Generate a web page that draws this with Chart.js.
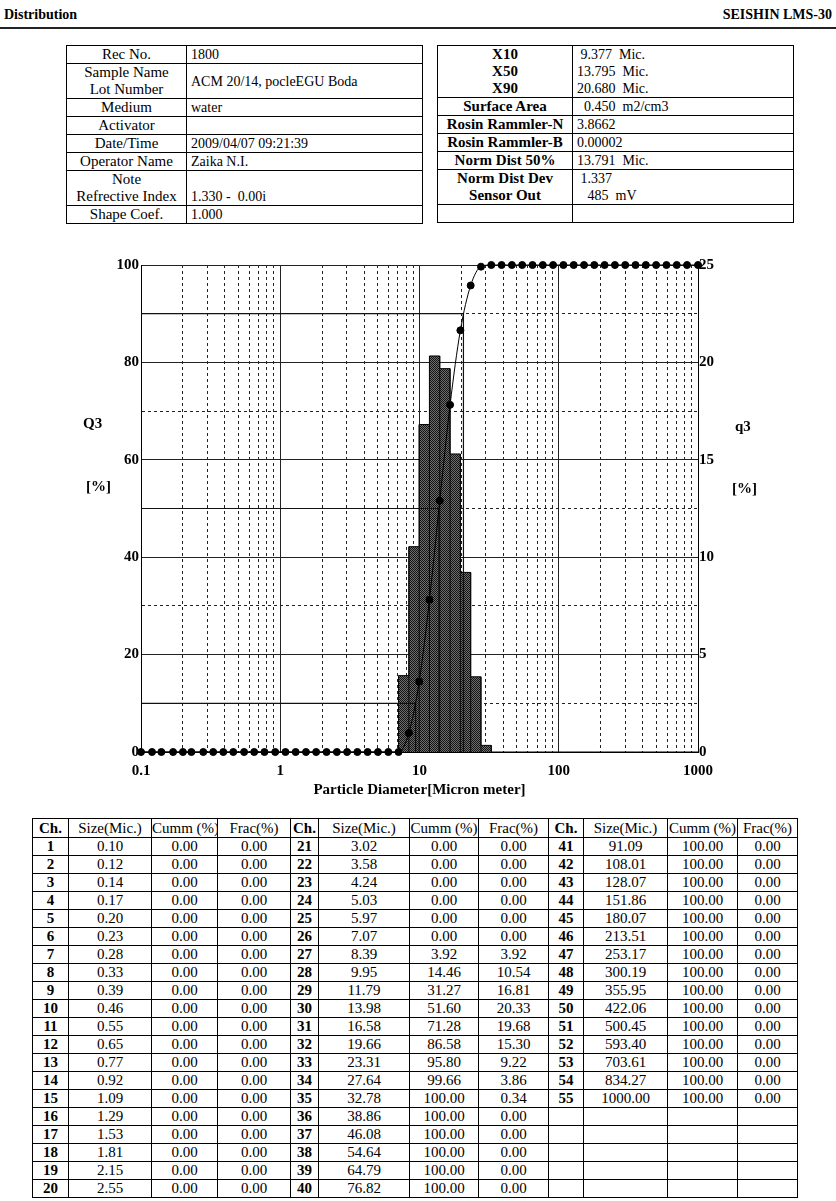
<!DOCTYPE html>
<html>
<head>
<meta charset="utf-8">
<script src="https://cdn.jsdelivr.net/npm/chart.js@4.4.0/dist/chart.umd.min.js"></script>
<style>
  body { margin: 0; background: #fff; color: #000; font-family: "Liberation Serif", "Times New Roman", serif; }
  #page { position: relative; width: 836px; height: 1201px; overflow: hidden; }
  .abs { position: absolute; }
  .hdr { font-size: 14px; font-weight: bold; top: 7px; }
  table { border-collapse: collapse; table-layout: fixed; }
  td { border: 1px solid #000; padding: 0; font-size: 14px; line-height: 17px; white-space: pre; overflow: hidden; }
  #info td.l, #stats td.l { text-align: center; font-size: 15px; }
  #info td.v, #stats td.v { padding-left: 4px; }
  #stats td.l { font-weight: bold; }
  #grid td { text-align: center; font-size: 15px; }
  #grid tr.h td { line-height: 18px; }
  #grid td.ch { font-weight: bold; }
  .axlbl { font-size: 15px; font-weight: bold; }
</style>
</head>
<body>
<div id="page">
  <div class="abs hdr" style="left:4px;">Distribution</div>
  <div class="abs hdr" style="right:4px;">SEISHIN LMS-30</div>
  <div class="abs" style="left:0;top:27px;width:836px;height:2px;background:#222;"></div>

  <table id="info" class="abs" style="left:66px;top:45px;width:357px;"></table>
  <table id="stats" class="abs" style="left:437px;top:45px;width:357px;"></table>

  <canvas id="psd" class="abs" width="760" height="560" style="left:40px;top:250px;"></canvas>
  <div class="abs axlbl" style="left:83px;top:415px;">Q3</div>
  <div class="abs axlbl" style="left:86px;top:478px;">[%]</div>
  <div class="abs axlbl" style="left:735px;top:418px;">q3</div>
  <div class="abs axlbl" style="left:732px;top:480px;">[%]</div>

  <table id="grid" class="abs" style="left:32px;top:818px;width:765px;"></table>
</div>
<script>
// measurement info
var infoLabels = ['Rec No.', 'Sample Name\nLot Number', 'Medium', 'Activator', 'Date/Time', 'Operator Name', 'Note\nRefrective Index', 'Shape Coef.'];
var infoValues = ['1800', 'ACM 20/14, pocleEGU Boda', 'water', '', '2009/04/07 09:21:39', 'Zaika N.I.', '\n1.330 -  0.00i', '1.000'];

var statLabels = ['X10\nX50\nX90', 'Surface Area', 'Rosin Rammler-N', 'Rosin Rammler-B', 'Norm Dist 50%', 'Norm Dist Dev\nSensor Out', '\u00a0'];
var statValues = [' 9.377  Mic.\n13.795  Mic.\n20.680  Mic.', '  0.450  m2/cm3', '3.8662', '0.00002', '13.791  Mic.', ' 1.337\n   485  mV', '\u00a0'];
var xStatSizes = [9.377, 13.795, 20.680];
var xStatLevels = [10, 50, 90];

// channel data
var sizes = [0.10, 0.12, 0.14, 0.17, 0.20, 0.23, 0.28, 0.33, 0.39, 0.46,
             0.55, 0.65, 0.77, 0.92, 1.09, 1.29, 1.53, 1.81, 2.15, 2.55,
             3.02, 3.58, 4.24, 5.03, 5.97, 7.07, 8.39, 9.95, 11.79, 13.98,
             16.58, 19.66, 23.31, 27.64, 32.78, 38.86, 46.08, 54.64, 64.79, 76.82,
             91.09, 108.01, 128.07, 151.86, 180.07, 213.51, 253.17, 300.19, 355.95, 422.06,
             500.45, 593.40, 703.61, 834.27, 1000.00];
var cumm = [0, 0, 0, 0, 0, 0, 0, 0, 0, 0,
            0, 0, 0, 0, 0, 0, 0, 0, 0, 0,
            0, 0, 0, 0, 0, 0, 3.92, 14.46, 31.27, 51.60,
            71.28, 86.58, 95.80, 99.66, 100, 100, 100, 100, 100, 100,
            100, 100, 100, 100, 100, 100, 100, 100, 100, 100,
            100, 100, 100, 100, 100];
var frac = [0, 0, 0, 0, 0, 0, 0, 0, 0, 0,
            0, 0, 0, 0, 0, 0, 0, 0, 0, 0,
            0, 0, 0, 0, 0, 0, 3.92, 10.54, 16.81, 20.33,
            19.68, 15.30, 9.22, 3.86, 0.34, 0, 0, 0, 0, 0,
            0, 0, 0, 0, 0, 0, 0, 0, 0, 0,
            0, 0, 0, 0, 0];

var xMajor = [0.1, 1, 10, 100, 1000];
var gridCols = ['Ch.', 'Size(Mic.)', 'Cumm (%)', 'Frac(%)'];
var gridWidths = [36, 83, 66, 73, 28, 91, 69, 70, 35, 84, 70, 60];

// ---- tables ----
function cellRows(tableId, labels, values) {
  var t = document.getElementById(tableId);
  var html = '<colgroup><col style="width:' + (tableId === 'info' ? 120 : 135) + 'px"><col></colgroup>';
  for (var i = 0; i < labels.length; i++) {
    html += '<tr><td class="l">' + labels[i] + '</td><td class="v">' + values[i] + '</td></tr>';
  }
  t.innerHTML = html;
}
cellRows('info', infoLabels, infoValues);
cellRows('stats', statLabels, statValues);

(function () {
  var t = document.getElementById('grid');
  var html = '<colgroup>' + gridWidths.map(function (w) { return '<col style="width:' + w + 'px">'; }).join('') + '</colgroup>';
  html += '<tr class="h">';
  for (var k = 0; k < 3; k++) {
    html += gridCols.map(function (c, j) { return '<td' + (j === 0 ? ' class="ch"' : '') + '>' + c + '</td>'; }).join('');
  }
  html += '</tr>';
  for (var r = 0; r < 20; r++) {
    html += '<tr>';
    for (var k = 0; k < 3; k++) {
      var i = r + k * 20;
      if (i < sizes.length) {
        html += '<td class="ch">' + (i + 1) + '</td><td>' + sizes[i].toFixed(2) + '</td><td>' + cumm[i].toFixed(2) + '</td><td>' + frac[i].toFixed(2) + '</td>';
      } else {
        html += '<td></td><td></td><td></td><td></td>';
      }
    }
    html += '</tr>';
  }
  t.innerHTML = html;
})();

// ---- chart ----
Chart.defaults.font.family = '"Liberation Serif", "Times New Roman", serif';
Chart.defaults.color = '#000';

var ctx = document.getElementById('psd').getContext('2d');

// stippled fill like the printed histogram
var pc = document.createElement('canvas');
pc.width = 2; pc.height = 2;
var pg = pc.getContext('2d');
pg.fillStyle = '#6e6e6e'; pg.fillRect(0, 0, 2, 2);
pg.fillStyle = '#141414'; pg.fillRect(0, 0, 1, 1); pg.fillRect(1, 1, 1, 1);
var barPattern = ctx.createPattern(pc, 'repeat');

var xGridTicks = [];
xMajor.forEach(function (d, n) {
  if (n === xMajor.length - 1) { xGridTicks.push(d); return; }
  for (var m = 1; m <= 9; m++) xGridTicks.push(m === 1 ? d : +(m * d).toPrecision(2));
});

var histPts = sizes.map(function (s, i) { return { x: s, y: frac[i] }; });
var edgePts = [];
for (var i = 0; i < sizes.length; i++) {
  var h = Math.max(frac[i], frac[i + 1] || 0);
  if (h > 0) edgePts.push({ x: sizes[i], y: 0 }, { x: sizes[i], y: h }, { x: sizes[i], y: null });
}
var cummPts = sizes.map(function (s, i) { return { x: s, y: cumm[i] }; });

var datasets = [{
  label: 'Q3',
  data: cummPts,
  yAxisID: 'yL',
  order: 0,
  borderColor: '#000',
  borderWidth: 1,
  pointRadius: 3.5,
  pointBackgroundColor: '#000',
  pointBorderColor: '#000',
  cubicInterpolationMode: 'monotone',
  clip: false
}];
xStatSizes.forEach(function (s, k) {
  datasets.push({
    label: 'X' + xStatLevels[k],
    data: [{ x: xMajor[0], y: xStatLevels[k] }, { x: s, y: xStatLevels[k] }, { x: s, y: 0 }],
    yAxisID: 'yL',
    order: 1,
    borderColor: '#111',
    borderWidth: 1.2,
    pointRadius: 0
  });
});
datasets.push({
  label: 'edges',
  data: edgePts,
  yAxisID: 'yR',
  order: 2,
  borderColor: '#0a0a0a',
  borderWidth: 1,
  pointRadius: 0,
  spanGaps: false
});
datasets.push({
  label: 'q3',
  data: histPts,
  yAxisID: 'yR',
  order: 3,
  stepped: 'after',
  fill: 'origin',
  backgroundColor: barPattern,
  borderColor: '#000',
  borderWidth: 1,
  pointRadius: 0
});

var dashGrid = function (isMajor) {
  return function (c) { return c.tick && !isMajor(c.tick.value) ? [3, 3] : []; };
};

new Chart(ctx, {
  type: 'line',
  data: { datasets: datasets },
  options: {
    responsive: false,
    animation: false,
    events: [],
    layout: { padding: { top: 15, left: 0, right: 0, bottom: 0 } },
    plugins: { legend: { display: false }, tooltip: { enabled: false } },
    scales: {
      x: {
        type: 'logarithmic',
        min: 0.1,
        max: 1000,
        afterBuildTicks: function (scale) { scale.ticks = xGridTicks.map(function (v) { return { value: v }; }); },
        afterFit: function (scale) { scale.height = 58; },
        ticks: {
          autoSkip: false, maxRotation: 0, padding: 10,
          font: { size: 15, weight: 'bold' }, color: '#000',
          callback: function (v) { return xMajor.indexOf(v) >= 0 ? String(v) : ''; }
        },
        grid: { color: '#222', lineWidth: 1, drawTicks: false },
        border: { display: true, color: '#000', width: 1, dash: dashGrid(function (v) { return xMajor.indexOf(v) >= 0; }) },
        title: { display: true, text: 'Particle Diameter[Micron meter]', font: { size: 15, weight: 'bold' }, color: '#000', padding: { top: 0, bottom: 11 } }
      },
      yL: {
        position: 'left',
        min: 0,
        max: 100,
        afterFit: function (scale) { scale.width = 101; },
        ticks: {
          stepSize: 10, padding: 2,
          font: { size: 15, weight: 'bold' }, color: '#000',
          callback: function (v) { return v % 20 === 0 ? v : ''; }
        },
        grid: { color: '#222', lineWidth: 1, drawTicks: false },
        border: { display: true, color: '#000', width: 1, dash: dashGrid(function (v) { return v % 20 === 0; }) }
      },
      yR: {
        position: 'right',
        min: 0,
        max: 25,
        afterFit: function (scale) { scale.width = 102; },
        ticks: { stepSize: 5, padding: 1, font: { size: 15, weight: 'bold' }, color: '#000' },
        grid: { drawOnChartArea: false, drawTicks: false },
        border: { display: true, color: '#000', width: 1 }
      }
    }
  }
});
</script>
</body>
</html>
